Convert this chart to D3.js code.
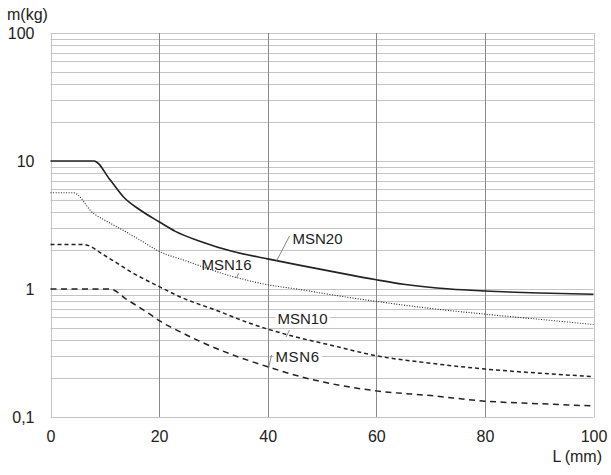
<!DOCTYPE html>
<html>
<head>
<meta charset="utf-8">
<script src="https://cdn.jsdelivr.net/npm/d3@7"></script>
<style>
  html, body { margin: 0; padding: 0; background: #fff; }
  svg { display: block; font-family: "Liberation Sans", Arial, sans-serif; }
</style>
</head>
<body>
<svg id="chart" width="611" height="475"></svg>
<script>
// ---- data ----
const xTicks = [0, 20, 40, 60, 80, 100];
const yTicks = [0.1, 1, 10, 100];
const yTickLabels = ["0,1", "1", "10", "100"];

const msn20L = [0, 8, 11, 13.4, 16.5, 20, 23, 27.5, 33.6, 40, 46, 51.5, 60, 65, 73.6, 80, 90, 100];
const msn20M = [10, 10, 7.1, 5.26, 4.14, 3.35, 2.82, 2.36, 1.96, 1.72, 1.53, 1.38, 1.18, 1.09, 1.0, 0.965, 0.93, 0.91];

const msn16L = [0, 4.2, 7.9, 10, 12.2, 16.5, 20.1, 24.4, 33.6, 40, 46, 51.5, 60, 70, 80, 90, 100];
const msn16M = [5.65, 5.65, 3.9, 3.45, 3.07, 2.41, 1.96, 1.69, 1.25, 1.08, 0.99, 0.905, 0.80, 0.705, 0.636, 0.58, 0.528];

const msn10L = [0, 6, 10.3, 15.2, 20.1, 23.8, 30.6, 36.7, 43.8, 51.5, 60, 70, 80, 90, 100];
const msn10M = [2.23, 2.23, 1.79, 1.33, 1.04, 0.87, 0.68, 0.54, 0.437, 0.365, 0.301, 0.263, 0.237, 0.22, 0.207];

const msn6L = [0, 11, 14, 16, 18.3, 20.2, 23.8, 27.5, 33, 40, 46, 60, 70, 80, 90, 100];
const msn6M = [1.0, 1.0, 0.83, 0.735, 0.635, 0.56, 0.465, 0.39, 0.312, 0.247, 0.207, 0.16, 0.147, 0.133, 0.127, 0.122];

const seriesNames = ["MSN20", "MSN16", "MSN10", "MSN6"];

// ---- drawing ----
const svg = d3.select("#chart");
const x = d3.scaleLinear().domain([0, 100]).range([50.5, 593.5]);
const y = d3.scaleLog().domain([0.1, 100]).range([417, 33]);

const gridColor = "#c4c4c4";
const vGridColor = "#8a8a8a";
const textColor = "#222";

// horizontal grid (all log ticks)
const hLines = [];
for (let e = -1; e < 2; e++) {
  for (let k = 1; k <= 9; k++) hLines.push(k * Math.pow(10, e));
}
hLines.push(100);

svg.append("g").selectAll("line").data(hLines).join("line")
  .attr("x1", x(0)).attr("x2", x(100))
  .attr("y1", d => Math.round(y(d)) + 0.5).attr("y2", d => Math.round(y(d)) + 0.5)
  .attr("stroke", gridColor).attr("stroke-width", 1);

// vertical grid
svg.append("g").selectAll("line").data([20, 40, 60, 80]).join("line")
  .attr("x1", d => Math.round(x(d)) + 0.5).attr("x2", d => Math.round(x(d)) + 0.5)
  .attr("y1", y(100)).attr("y2", y(0.1))
  .attr("stroke", vGridColor).attr("stroke-width", 1);

// border left/right
svg.append("g").selectAll("line").data([0, 100]).join("line")
  .attr("x1", d => Math.round(x(d)) + 0.5).attr("x2", d => Math.round(x(d)) + 0.5)
  .attr("y1", y(100)).attr("y2", y(0.1) + 0.5)
  .attr("stroke", gridColor).attr("stroke-width", 1);

// axes
const yAxis = d3.axisLeft(y).tickValues(yTicks)
  .tickFormat((d, i) => yTickLabels[i]).tickSize(0).tickPadding(16);
const gy = svg.append("g").attr("transform", `translate(${x(0)},0)`).call(yAxis);
gy.select(".domain").remove();
gy.selectAll("text").attr("font-size", 16).attr("fill", textColor)
  .attr("font-family", "Liberation Sans, Arial, sans-serif");

const xAxis = d3.axisBottom(x).tickValues(xTicks).tickFormat(d3.format("d"))
  .tickSize(0).tickPadding(14);
const gx = svg.append("g").attr("transform", `translate(0,${y(0.1)})`).call(xAxis);
gx.select(".domain").remove();
gx.selectAll("text").attr("font-size", 16).attr("fill", textColor)
  .attr("font-family", "Liberation Sans, Arial, sans-serif");

// axis titles
svg.append("text").attr("x", 7).attr("y", 20).attr("font-size", 16)
  .attr("fill", textColor).text("m(kg)");
svg.append("text").attr("x", 602).attr("y", 462).attr("font-size", 16)
  .attr("text-anchor", "end").attr("fill", textColor).text("L\u2009(mm)");

// label boxes (white) and labels
const labelPos = [
  { name: "MSN20", tx: 292.5, ty: 244, leader: [[289.5, 236], [276.5, 261]] },
  { name: "MSN16", tx: 201.5, ty: 269.5, leader: [[238.5, 273.5], [236.5, 278]] },
  { name: "MSN10", tx: 277.5, ty: 323.5, leader: [[289.5, 330], [286, 337]] },
  { name: "MSN6",  tx: 275.5, ty: 361.5, leader: [[271.5, 355], [268.5, 368.5]] }
];

const lg = svg.append("g");
labelPos.forEach(p => {
  const t = lg.append("text").attr("x", p.tx).attr("y", p.ty)
    .attr("font-size", 15).attr("fill", textColor)
    .attr("letter-spacing", p.name === "MSN6" ? 0.6 : 0)
    .text(p.name);
  const bb = t.node().getBBox();
  lg.insert("rect", "text").attr("x", bb.x - 2).attr("y", bb.y + 1)
    .attr("width", bb.width + 4).attr("height", bb.height - 1).attr("fill", "#fff");
});

// curves
const line = d3.line().x(d => x(d[0])).y(d => y(d[1])).curve(d3.curveMonotoneX);
const series = [
  { L: msn20L, M: msn20M, dash: null, w: 1.6 },
  { L: msn16L, M: msn16M, dash: "1,1.6", w: 1.1 },
  { L: msn10L, M: msn10M, dash: "4,3", w: 1.5 },
  { L: msn6L,  M: msn6M,  dash: "6,4.5", w: 1.5 }
];
svg.append("g").selectAll("path").data(series).join("path")
  .attr("d", s => line(s.L.map((l, i) => [l, s.M[i]])))
  .attr("fill", "none").attr("stroke", "#222")
  .attr("stroke-width", s => s.w)
  .attr("stroke-dasharray", s => s.dash);

// leaders
svg.append("g").selectAll("line").data(labelPos).join("line")
  .attr("x1", d => d.leader[0][0]).attr("y1", d => d.leader[0][1])
  .attr("x2", d => d.leader[1][0]).attr("y2", d => d.leader[1][1])
  .attr("stroke", "#666").attr("stroke-width", 0.8);
</script>
</body>
</html>
